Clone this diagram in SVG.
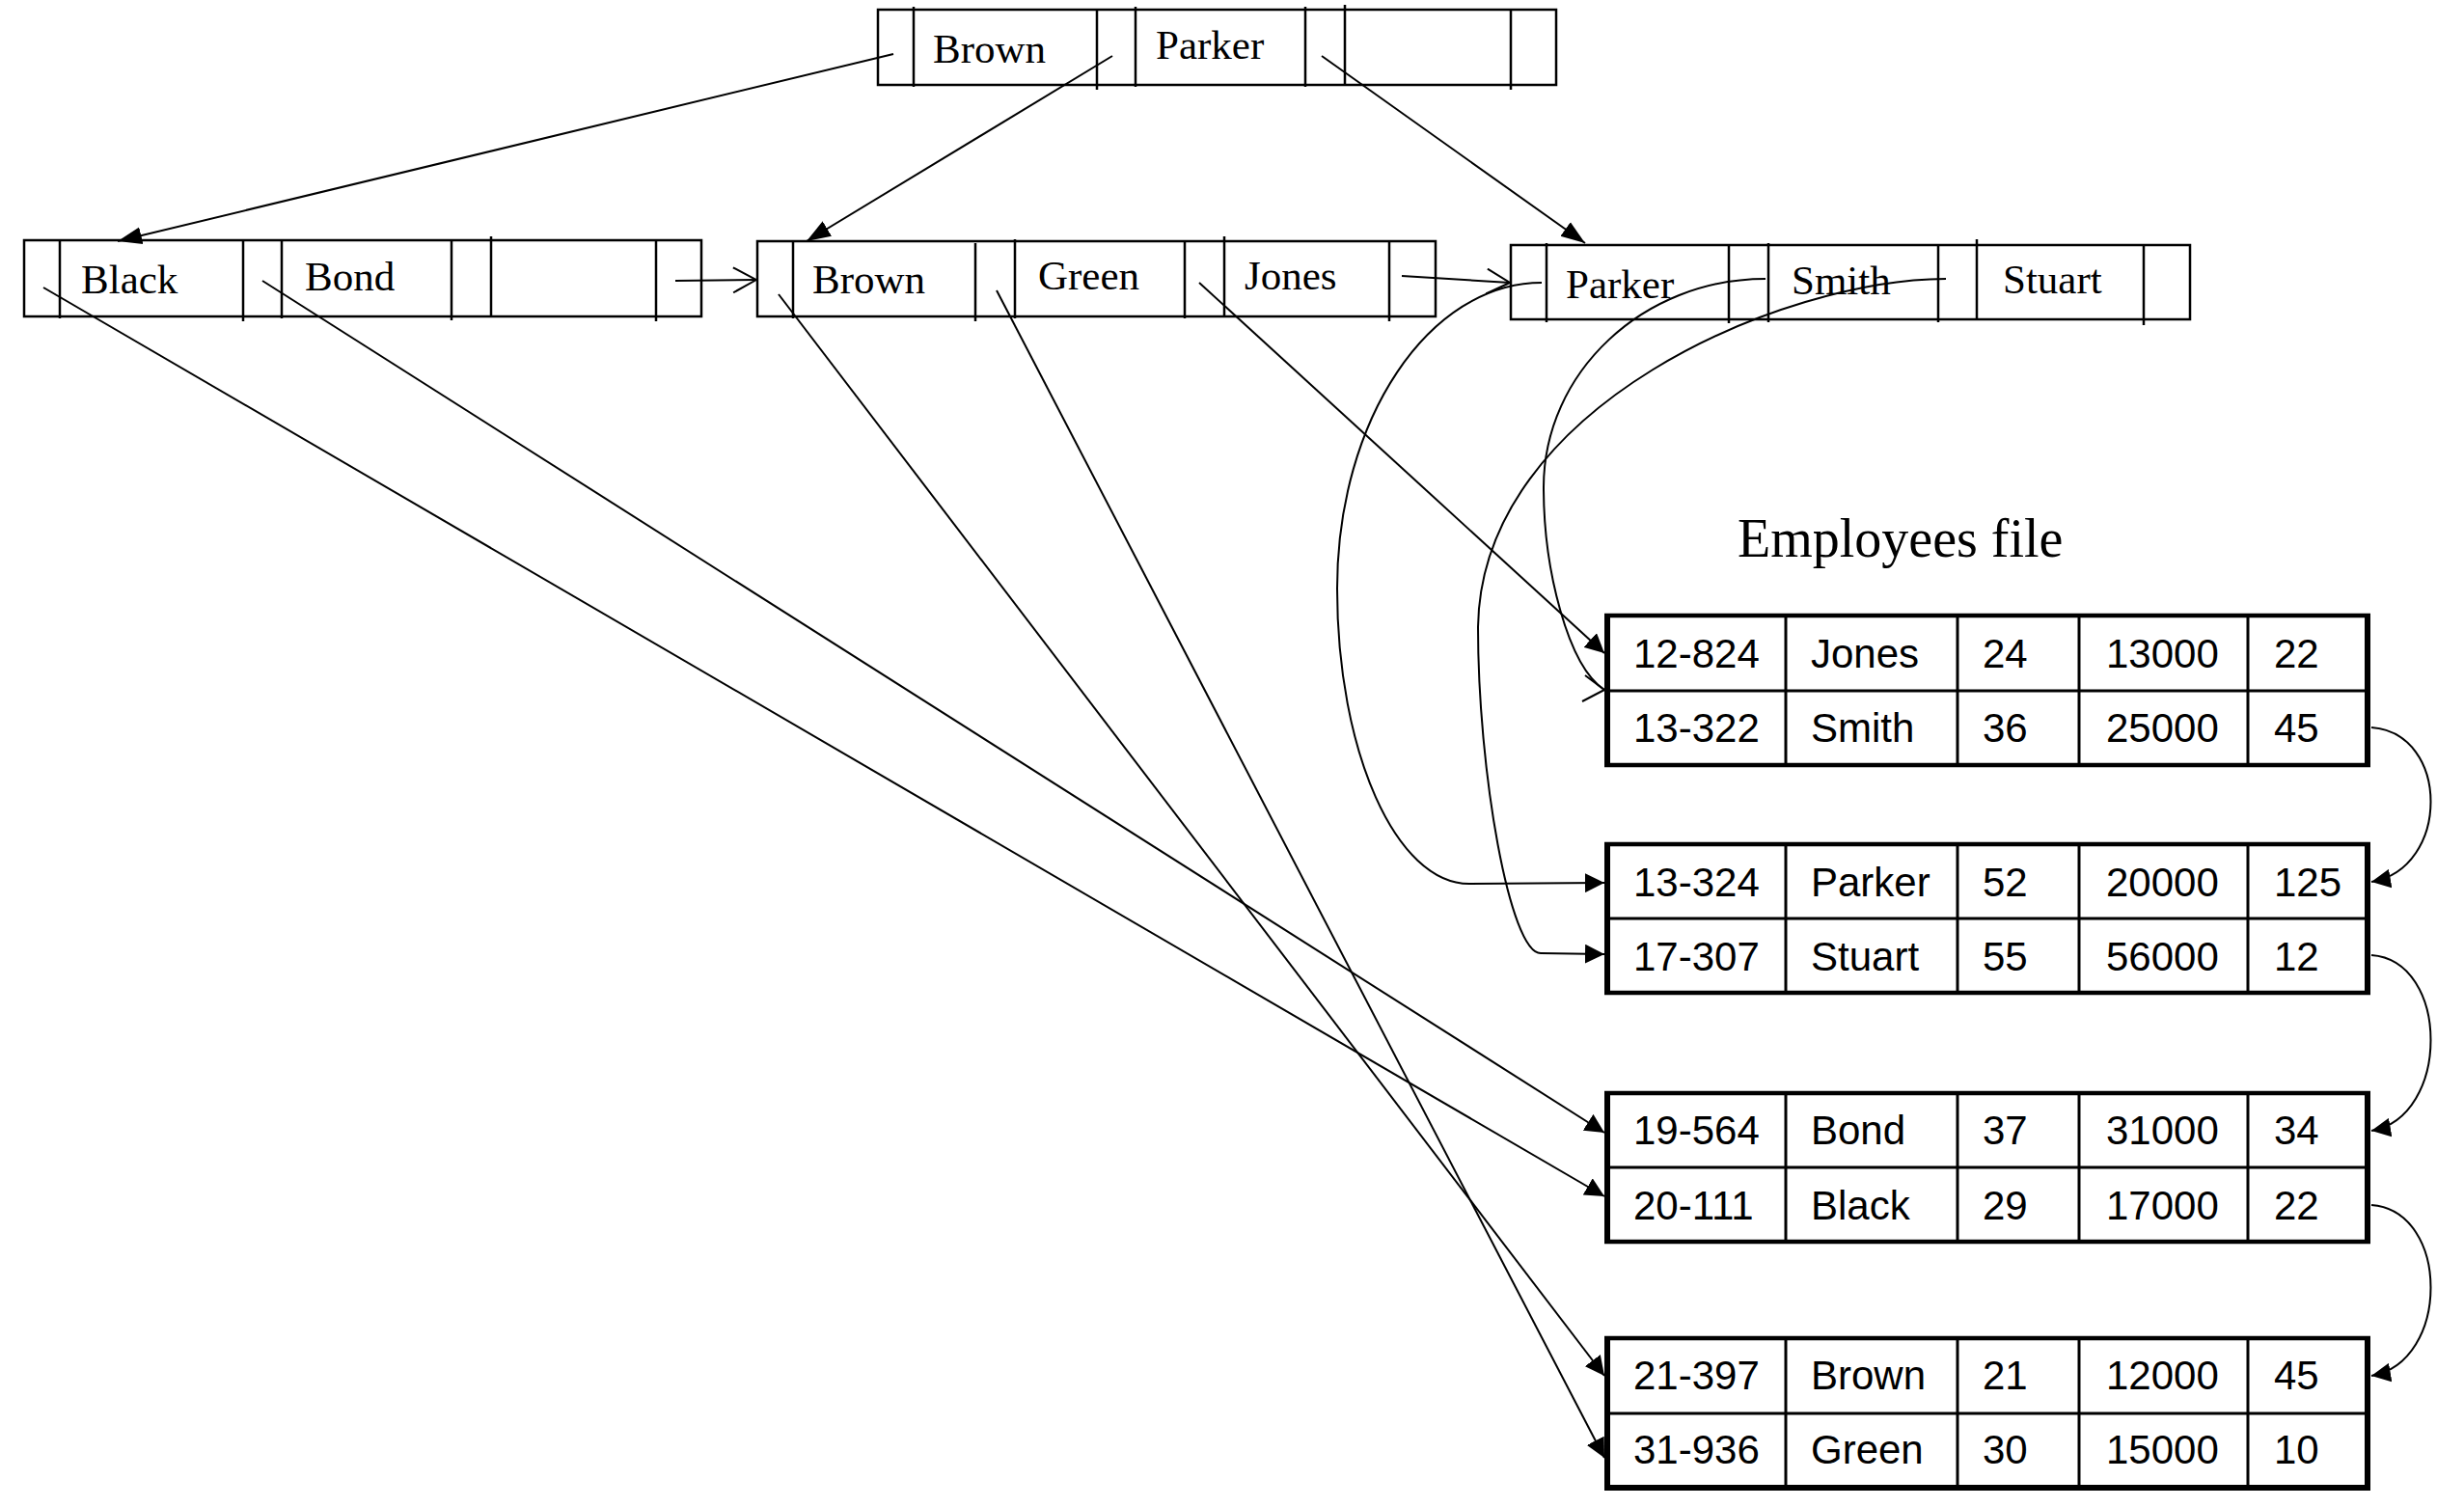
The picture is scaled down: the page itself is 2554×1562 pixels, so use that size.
<svg xmlns="http://www.w3.org/2000/svg" width="2554" height="1562" viewBox="0 0 2554 1562">
<style>
.box{fill:none;stroke:#000;stroke-width:2.5}
.div{stroke:#000;stroke-width:2.5}
.serif{font-family:"Liberation Serif","Times New Roman",serif;font-size:43px;fill:#000}
.title{font-family:"Liberation Serif","Times New Roman",serif;font-size:56px;fill:#000}
.cell{font-family:"Liberation Sans",Arial,sans-serif;font-size:42px;fill:#000}
.tin{stroke:#000;stroke-width:3}
.tout{stroke:#000;stroke-width:6}
.th{stroke:#000;stroke-width:4.5}
.con{fill:none;stroke:#000;stroke-width:2}
</style>
<defs>
<marker id="ah" viewBox="0 0 20 20" refX="20" refY="10" markerWidth="20" markerHeight="20" markerUnits="userSpaceOnUse" orient="auto"><path d="M0,0 L20,10 L0,20 z" fill="#000"/></marker>
<marker id="ahl" viewBox="0 0 25 20" refX="25" refY="10" markerWidth="25" markerHeight="20" markerUnits="userSpaceOnUse" orient="auto"><path d="M0,1 L25,10 L0,19 z" fill="#000"/></marker>
<marker id="av" viewBox="0 0 26 28" refX="25" refY="14" markerWidth="26" markerHeight="28" markerUnits="userSpaceOnUse" orient="auto"><path d="M1,1 L25,14 L1,27" fill="none" stroke="#000" stroke-width="2"/></marker>
</defs>
<rect width="2554" height="1562" fill="#fff"/>

<g id="root">
<rect class="box" x="910" y="10" width="703" height="78"/>
<line class="div" x1="947" y1="7" x2="947" y2="90"/>
<line class="div" x1="1137" y1="10" x2="1137" y2="93"/>
<line class="div" x1="1177" y1="7" x2="1177" y2="90"/>
<line class="div" x1="1353" y1="7" x2="1353" y2="90"/>
<line class="div" x1="1394" y1="5" x2="1394" y2="88"/>
<line class="div" x1="1566" y1="10" x2="1566" y2="93"/>
<text class="serif" x="967" y="65">Brown</text>
<text class="serif" x="1198" y="61">Parker</text>
</g>

<g id="leaf1">
<rect class="box" x="25" y="249" width="702" height="79"/>
<line class="div" x1="62" y1="248" x2="62" y2="330"/>
<line class="div" x1="252" y1="250" x2="252" y2="333"/>
<line class="div" x1="292" y1="248" x2="292" y2="330"/>
<line class="div" x1="468" y1="250" x2="468" y2="332"/>
<line class="div" x1="509" y1="245" x2="509" y2="328"/>
<line class="div" x1="680" y1="248" x2="680" y2="333"/>
<text class="serif" x="84" y="304">Black</text>
<text class="serif" x="316" y="301">Bond</text>
</g>

<g id="leaf2">
<rect class="box" x="785" y="250" width="703" height="78"/>
<line class="div" x1="822" y1="250" x2="822" y2="330"/>
<line class="div" x1="1011" y1="252" x2="1011" y2="333"/>
<line class="div" x1="1052" y1="248" x2="1052" y2="330"/>
<line class="div" x1="1228" y1="250" x2="1228" y2="330"/>
<line class="div" x1="1269" y1="245" x2="1269" y2="328"/>
<line class="div" x1="1440" y1="250" x2="1440" y2="333"/>
<text class="serif" x="842" y="304">Brown</text>
<text class="serif" x="1076" y="300">Green</text>
<text class="serif" x="1290" y="300">Jones</text>
</g>

<g id="leaf3">
<rect class="box" x="1566" y="254" width="704" height="77"/>
<line class="div" x1="1603" y1="252" x2="1603" y2="334"/>
<line class="div" x1="1792" y1="255" x2="1792" y2="335"/>
<line class="div" x1="1833" y1="252" x2="1833" y2="334"/>
<line class="div" x1="2009" y1="255" x2="2009" y2="334"/>
<line class="div" x1="2049" y1="248" x2="2049" y2="332"/>
<line class="div" x1="2222" y1="255" x2="2222" y2="337"/>
<text class="serif" x="1623" y="309">Parker</text>
<text class="serif" x="1857" y="305">Smith</text>
<text class="serif" x="2076" y="304">Stuart</text>
</g>

<text class="title" x="1801" y="577">Employees file</text>

<g id="block1">
<line class="th" x1="1663" y1="638" x2="2457" y2="638"/>
<line class="tin" x1="1666" y1="716" x2="2454" y2="716"/>
<line class="th" x1="1663" y1="793" x2="2457" y2="793"/>
<line class="tout" x1="1666" y1="636" x2="1666" y2="795"/>
<line class="tout" x1="2454" y1="636" x2="2454" y2="795"/>
<line class="tin" x1="1851" y1="638" x2="1851" y2="793"/>
<line class="tin" x1="2029" y1="638" x2="2029" y2="793"/>
<line class="tin" x1="2155" y1="638" x2="2155" y2="793"/>
<line class="tin" x1="2330" y1="638" x2="2330" y2="793"/>
<text class="cell" x="1693" y="692">12-824</text><text class="cell" x="1877" y="692">Jones</text><text class="cell" x="2055" y="692">24</text><text class="cell" x="2183" y="692">13000</text><text class="cell" x="2357" y="692">22</text>
<text class="cell" x="1693" y="769">13-322</text><text class="cell" x="1877" y="769">Smith</text><text class="cell" x="2055" y="769">36</text><text class="cell" x="2183" y="769">25000</text><text class="cell" x="2357" y="769">45</text>
</g>

<g id="block2">
<line class="th" x1="1663" y1="875" x2="2457" y2="875"/>
<line class="tin" x1="1666" y1="952" x2="2454" y2="952"/>
<line class="th" x1="1663" y1="1029" x2="2457" y2="1029"/>
<line class="tout" x1="1666" y1="873" x2="1666" y2="1031"/>
<line class="tout" x1="2454" y1="873" x2="2454" y2="1031"/>
<line class="tin" x1="1851" y1="875" x2="1851" y2="1029"/>
<line class="tin" x1="2029" y1="875" x2="2029" y2="1029"/>
<line class="tin" x1="2155" y1="875" x2="2155" y2="1029"/>
<line class="tin" x1="2330" y1="875" x2="2330" y2="1029"/>
<text class="cell" x="1693" y="929">13-324</text><text class="cell" x="1877" y="929">Parker</text><text class="cell" x="2055" y="929">52</text><text class="cell" x="2183" y="929">20000</text><text class="cell" x="2357" y="929">125</text>
<text class="cell" x="1693" y="1006">17-307</text><text class="cell" x="1877" y="1006">Stuart</text><text class="cell" x="2055" y="1006">55</text><text class="cell" x="2183" y="1006">56000</text><text class="cell" x="2357" y="1006">12</text>
</g>

<g id="block3">
<line class="th" x1="1663" y1="1133" x2="2457" y2="1133"/>
<line class="tin" x1="1666" y1="1210" x2="2454" y2="1210"/>
<line class="th" x1="1663" y1="1287" x2="2457" y2="1287"/>
<line class="tout" x1="1666" y1="1131" x2="1666" y2="1289"/>
<line class="tout" x1="2454" y1="1131" x2="2454" y2="1289"/>
<line class="tin" x1="1851" y1="1133" x2="1851" y2="1287"/>
<line class="tin" x1="2029" y1="1133" x2="2029" y2="1287"/>
<line class="tin" x1="2155" y1="1133" x2="2155" y2="1287"/>
<line class="tin" x1="2330" y1="1133" x2="2330" y2="1287"/>
<text class="cell" x="1693" y="1186">19-564</text><text class="cell" x="1877" y="1186">Bond</text><text class="cell" x="2055" y="1186">37</text><text class="cell" x="2183" y="1186">31000</text><text class="cell" x="2357" y="1186">34</text>
<text class="cell" x="1693" y="1264">20-111</text><text class="cell" x="1877" y="1264">Black</text><text class="cell" x="2055" y="1264">29</text><text class="cell" x="2183" y="1264">17000</text><text class="cell" x="2357" y="1264">22</text>
</g>

<g id="block4">
<line class="th" x1="1663" y1="1387" x2="2457" y2="1387"/>
<line class="tin" x1="1666" y1="1465" x2="2454" y2="1465"/>
<line class="tout" x1="1663" y1="1542" x2="2457" y2="1542"/>
<line class="tout" x1="1666" y1="1385" x2="1666" y2="1544"/>
<line class="tout" x1="2454" y1="1385" x2="2454" y2="1544"/>
<line class="tin" x1="1851" y1="1387" x2="1851" y2="1542"/>
<line class="tin" x1="2029" y1="1387" x2="2029" y2="1542"/>
<line class="tin" x1="2155" y1="1387" x2="2155" y2="1542"/>
<line class="tin" x1="2330" y1="1387" x2="2330" y2="1542"/>
<text class="cell" x="1693" y="1440">21-397</text><text class="cell" x="1877" y="1440">Brown</text><text class="cell" x="2055" y="1440">21</text><text class="cell" x="2183" y="1440">12000</text><text class="cell" x="2357" y="1440">45</text>
<text class="cell" x="1693" y="1517">31-936</text><text class="cell" x="1877" y="1517">Green</text><text class="cell" x="2055" y="1517">30</text><text class="cell" x="2183" y="1517">15000</text><text class="cell" x="2357" y="1517">10</text>
</g>

<g id="connectors">
<line class="con" x1="926" y1="56" x2="122" y2="250" marker-end="url(#ahl)"/>
<line class="con" x1="1153" y1="58" x2="836" y2="250" marker-end="url(#ahl)"/>
<line class="con" x1="1370" y1="58" x2="1643" y2="252" marker-end="url(#ahl)"/>
<line class="con" x1="700" y1="291" x2="784" y2="290" marker-end="url(#av)"/>
<line class="con" x1="1453" y1="286" x2="1565" y2="293" marker-end="url(#av)"/>
<line class="con" x1="45" y1="298" x2="1663" y2="1240" marker-end="url(#ah)"/>
<line class="con" x1="272" y1="291" x2="1663" y2="1174" marker-end="url(#ah)"/>
<line class="con" x1="807" y1="305" x2="1663" y2="1426" marker-end="url(#ah)"/>
<line class="con" x1="1033" y1="301" x2="1663" y2="1511" marker-end="url(#ah)"/>
<line class="con" x1="1243" y1="293" x2="1663" y2="677" marker-end="url(#ah)"/>
<path class="con" d="M1598,293 C1481,293 1386,435 1386,610 C1386,779 1447,916 1523,916 L1663,915" marker-end="url(#ah)"/>
<path class="con" d="M1830,289 C1703,289 1600,386 1600,505 C1600,590 1625,690 1663,715"/>
<path class="con" d="M1643,700 L1663,715 L1640,727"/>
<path class="con" d="M2017,289 C1850,289 1535,420 1532,650 C1532,800 1565,988 1597,988 L1663,989" marker-end="url(#ah)"/>
<path class="con" d="M2458,754 C2540,760 2540,900 2458,914" marker-end="url(#ah)"/>
<path class="con" d="M2458,990 C2540,996 2540,1158 2458,1172" marker-end="url(#ah)"/>
<path class="con" d="M2458,1249 C2540,1255 2540,1412 2458,1426" marker-end="url(#ah)"/>
</g>
</svg>
